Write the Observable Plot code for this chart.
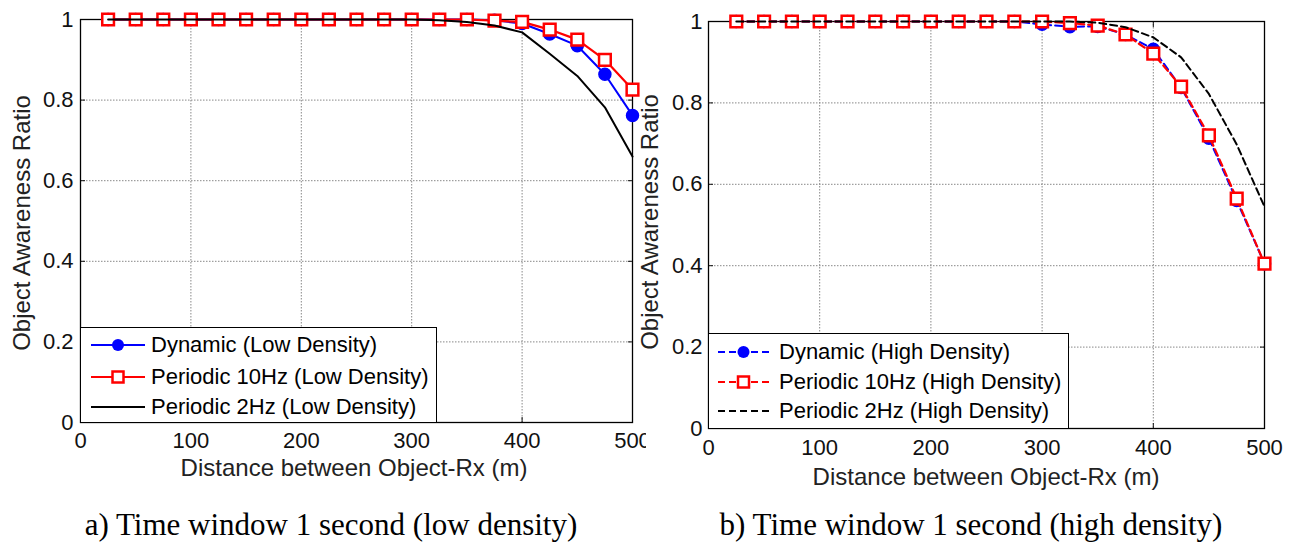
<!DOCTYPE html>
<html>
<head>
<meta charset="utf-8">
<script src="https://cdn.jsdelivr.net/npm/d3@7"></script>
<script src="https://cdn.jsdelivr.net/npm/@observablehq/plot@0.6"></script>
<style>
  body { margin: 0; background: #fff; }
  #wrap { position: relative; width: 1293px; height: 542px; overflow: hidden; font-family: "Liberation Sans", Arial, sans-serif; }
  .panel { position: absolute; top: 0; }
  .ylab { position: absolute; font-size: 24px; line-height: 1; color: #222; white-space: nowrap; transform: translate(-50%, -50%) rotate(-90deg); }
  .xlab { position: absolute; font-size: 24px; line-height: 1; color: #222; white-space: nowrap; transform: translateX(-50%); }
  .cap { position: absolute; font-family: "Liberation Serif", "Times New Roman", serif; font-size: 31px; line-height: 1; color: #000; white-space: nowrap; transform: translateX(-50%); }
  .legend { position: absolute; background: #fff; border: 1px solid #000; box-sizing: border-box; font-size: 22px; color: #000; }
  .legend .row { position: absolute; left: 0; display: flex; align-items: center; white-space: nowrap; height: 26px; }
  .legend svg { display: block; }
</style>
</head>
<body>
<div id="wrap">
  <div id="a" class="panel" style="left:0"></div>
  <div id="b" class="panel" style="left:646px"></div>
</div>
<script>
// ---------- data ----------
const distances = [25, 50, 75, 100, 125, 150, 175, 200, 225, 250, 275, 300, 325, 350, 375, 400, 425, 450, 475, 500];

// a) low density
const dynamicLow    = [1, 1, 1, 1, 1, 1, 1, 1, 1, 1, 1, 1, 1, 1, 0.998, 0.99, 0.964, 0.935, 0.864, 0.762];
const periodic10Low = [1, 1, 1, 1, 1, 1, 1, 1, 1, 1, 1, 1, 1, 1, 0.997, 0.994, 0.975, 0.95, 0.9, 0.826];
const periodic2Low  = [1, 1, 1, 1, 1, 1, 1, 1, 1, 1, 1, 1, 0.998, 0.994, 0.985, 0.968, 0.915, 0.86, 0.782, 0.66];

// b) high density
const dynamicHigh    = [1, 1, 1, 1, 1, 1, 1, 1, 1, 1, 1, 0.993, 0.987, 0.988, 0.968, 0.932, 0.838, 0.713, 0.56, 0.405];
const periodic10High = [1, 1, 1, 1, 1, 1, 1, 1, 1, 1, 1, 1, 0.996, 0.99, 0.968, 0.921, 0.84, 0.72, 0.565, 0.405];
const periodic2High  = [1, 1, 1, 1, 1, 1, 1, 1, 1, 1, 1, 1, 1, 0.997, 0.986, 0.961, 0.912, 0.822, 0.698, 0.545];

const xTicks = [0, 100, 200, 300, 400, 500];
const yTicks = [0, 0.2, 0.4, 0.6, 0.8, 1];
const xGrid = [100, 200, 300, 400];
const yGrid = [0.2, 0.4, 0.6, 0.8];

const lowLabels  = ["Dynamic (Low Density)", "Periodic 10Hz (Low Density)", "Periodic 2Hz (Low Density)"];
const highLabels = ["Dynamic (High Density)", "Periodic 10Hz (High Density)", "Periodic 2Hz (High Density)"];
const captions = ["a) Time window 1 second (low density)", "b) Time window 1 second (high density)"];
const xTitle = "Distance between Object-Rx (m)";
const yTitle = "Object Awareness Ratio";

const rows = (ys) => distances.map((d, i) => ({x: d, y: ys[i]}));
const fmt = (d) => String(+d.toFixed(1));

function panel({dyn, p10, p2, dashed, mTop, mLeft, mRight, plotH, width, xPad, yPad}) {
  const dash = dashed ? "7,4" : null;
  const height = 500;
  return Plot.plot({
    width, height,
    marginTop: mTop, marginLeft: mLeft, marginRight: mRight, marginBottom: height - mTop - plotH,
    style: {fontFamily: "'Liberation Sans', Arial, sans-serif", fontSize: "22px", color: "#111", background: "white", overflow: "visible"},
    x: {domain: [0, 500]},
    y: {domain: [0, 1]},
    marks: [
      Plot.gridX(xGrid, {stroke: "#888", strokeOpacity: 1, strokeDasharray: "1.5,1.5"}),
      Plot.gridY(yGrid, {stroke: "#888", strokeOpacity: 1, strokeDasharray: "1.5,1.5"}),
      Plot.axisX({ticks: xTicks, tickSize: 0, tickPadding: xPad, tickFormat: fmt, label: null, fontSize: 22}),
      Plot.axisY({ticks: yTicks, tickSize: 0, tickPadding: yPad, tickFormat: fmt, label: null, fontSize: 22}),
      Plot.axisX({ticks: xTicks, anchor: "bottom", tickSize: -5, tickFormat: () => "", label: null}),
      Plot.axisX({ticks: xTicks, anchor: "top", tickSize: -5, tickFormat: () => "", label: null}),
      Plot.axisY({ticks: yTicks, anchor: "left", tickSize: -5, tickFormat: () => "", label: null}),
      Plot.axisY({ticks: yTicks, anchor: "right", tickSize: -5, tickFormat: () => "", label: null}),
      Plot.frame({stroke: "black", strokeWidth: 1.3}),
      Plot.line(rows(dyn), {x: "x", y: "y", stroke: "blue", strokeWidth: 2, strokeDasharray: dash}),
      Plot.dot(rows(dyn), {x: "x", y: "y", r: 6, fill: "blue", stroke: "blue"}),
      Plot.line(rows(p10), {x: "x", y: "y", stroke: "red", strokeWidth: 2.2, strokeDasharray: dash}),
      Plot.dot(rows(p10), {x: "x", y: "y", symbol: "square", r: 6.6, fill: "white", stroke: "red", strokeWidth: 2.5}),
      Plot.line(rows(p2), {x: "x", y: "y", stroke: "black", strokeWidth: 2, strokeDasharray: dash})
    ]
  });
}

const wrap = document.getElementById("wrap");
document.getElementById("a").append(panel({dyn: dynamicLow, p10: periodic10Low, p2: periodic2Low, dashed: false, mTop: 19, mLeft: 80, mRight: 14, plotH: 403, width: 646, xPad: 10, yPad: 7}));
document.getElementById("b").append(panel({dyn: dynamicHigh, p10: periodic10High, p2: periodic2High, dashed: true, mTop: 21, mLeft: 62, mRight: 29, plotH: 407, width: 647, xPad: 11, yPad: 6}));

// baseline-positioned text helpers (line-height: 1)
function addDiv(cls, text, left, topOrCenter) {
  const d = document.createElement("div");
  d.className = cls; d.textContent = text;
  d.style.left = left + "px"; d.style.top = topOrCenter + "px";
  wrap.append(d);
}
const sansBase = 0.8465, serifBase = 0.8375;
addDiv("ylab", yTitle, 22, 223);
addDiv("ylab", yTitle, 650, 222);
addDiv("xlab", xTitle, 354, 476 - sansBase * 24);
addDiv("xlab", xTitle, 986, 485 - sansBase * 24);
addDiv("cap", captions[0], 331, 535 - serifBase * 31);
addDiv("cap", captions[1], 971, 535 - serifBase * 31);

function legend(labels, left, top, right, bottom, rowYs, symX0, symX1, textX, dashed) {
  const box = document.createElement("div");
  box.className = "legend";
  Object.assign(box.style, {left: left + "px", top: top + "px", width: (right - left) + "px", height: (bottom - top) + "px"});
  const dash = dashed ? "7,4" : "none";
  const kinds = [
    {stroke: "blue", marker: "circle"},
    {stroke: "red", marker: "square"},
    {stroke: "black", marker: null}
  ];
  labels.forEach((lab, i) => {
    const row = document.createElement("div");
    row.className = "row";
    row.style.top = (rowYs[i] - top - 1 - 13) + "px";
    row.style.left = (symX0 - left - 1) + "px";
    const len = symX1 - symX0;
    const k = kinds[i];
    let marker = "";
    if (k.marker === "circle") marker = `<circle cx="${len/2}" cy="13" r="6" fill="blue"/>`;
    if (k.marker === "square") marker = `<rect x="${len/2-5.5}" y="7.5" width="11" height="11" fill="white" stroke="red" stroke-width="2.5"/>`;
    row.innerHTML = `<svg width="${len}" height="26"><line x1="0" x2="${len}" y1="13" y2="13" stroke="${k.stroke}" stroke-width="2.2" stroke-dasharray="${dash}"/>${marker}</svg><span style="margin-left:${textX - symX1}px">${lab}</span>`;
    box.append(row);
  });
  wrap.append(box);
}
legend(lowLabels, 80, 327, 437, 423, [345, 377, 407], 91, 145, 151, false);
legend(highLabels, 708, 333, 1069, 429, [352, 382, 411], 718, 769, 779, true);
</script>
</body>
</html>
